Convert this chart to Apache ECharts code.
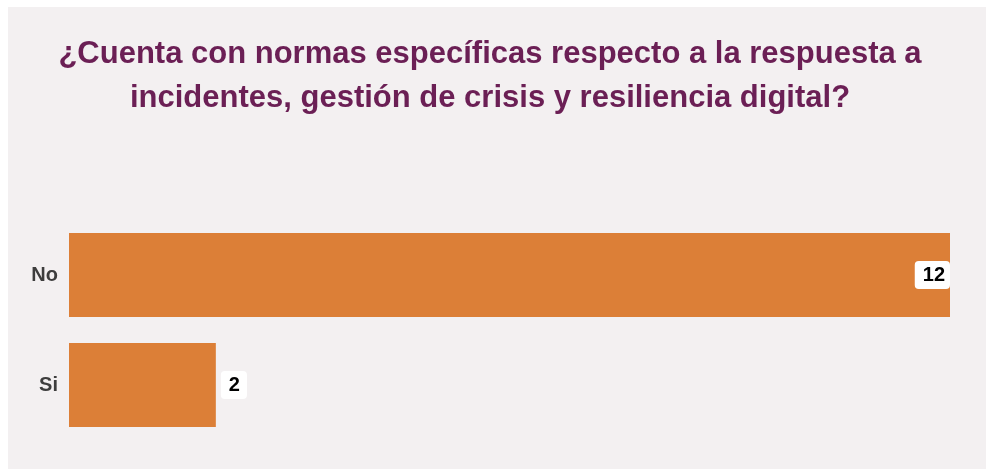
<!DOCTYPE html>
<html>
<head>
<meta charset="utf-8">
<script src="https://cdn.jsdelivr.net/npm/echarts@6/dist/echarts.min.js"></script>
<style>
  html, body { margin: 0; padding: 0; background: #fff; }
  #chart { width: 986px; height: 469px; }
</style>
</head>
<body>
<div id="chart"></div>
<script>
var titleText = '¿Cuenta con normas específicas respecto a la respuesta a\nincidentes, gestión de crisis y resiliencia digital?';
var categories = ['No', 'Si'];
var values = [12, 2];

var narrow = '"Liberation Sans Narrow", "Arial Narrow", "Liberation Sans", sans-serif';
var maxVal = Math.max.apply(null, values);

var chart = echarts.init(document.getElementById('chart'));
var option = {
  backgroundColor: '#ffffff',
  graphic: [{
    type: 'rect',
    z: -10,
    shape: { x: 8, y: 7, width: 978, height: 462 },
    style: { fill: '#f3f0f1' }
  }],
  title: {
    text: titleText,
    left: 485,
    textAlign: 'center',
    top: 27,
    textStyle: {
      fontFamily: narrow,
      fontSize: 31,
      fontWeight: 'bold',
      lineHeight: 44,
      color: '#6b1f55'
    }
  },
  grid: { left: 69, right: 36, top: 220, bottom: 29, containLabel: false },
  xAxis: {
    type: 'value',
    min: 0,
    max: maxVal,
    show: false
  },
  yAxis: {
    type: 'category',
    data: categories,
    inverse: true,
    axisLine: { show: false },
    axisTick: { show: false },
    axisLabel: {
      margin: 11,
      fontFamily: narrow,
      fontSize: 20,
      fontWeight: 'bold',
      color: '#3d3d3d'
    }
  },
  series: [{
    type: 'bar',
    barCategoryGap: '23.6%',
    itemStyle: { color: '#dc7f37' },
    label: {
      show: true,
      fontFamily: narrow,
      fontSize: 20,
      fontWeight: 'bold',
      color: '#000',
      backgroundColor: '#fff',
      borderRadius: 4,
      padding: [4, 5, 4, 8]
    },
    data: values.map(function (v) {
      return {
        value: v,
        label: v === maxVal
          ? { position: 'insideRight', distance: 0 }
          : { position: 'right', distance: 5, padding: [4, 7, 4, 8] }
      };
    })
  }]
};
chart.setOption(option);
window.addEventListener('resize', chart.resize);
</script>
</body>
</html>
